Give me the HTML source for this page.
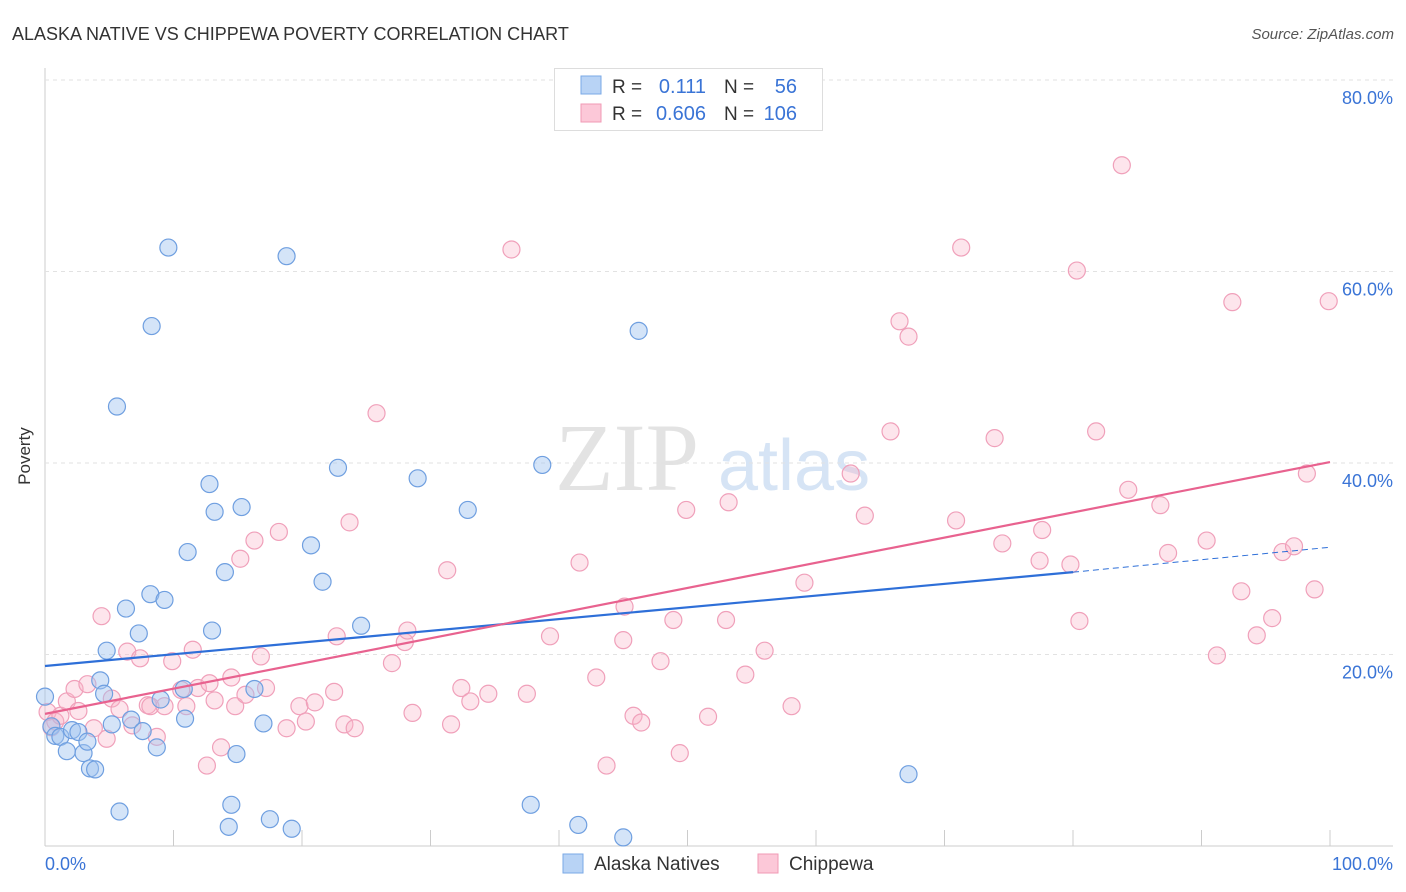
<!DOCTYPE html>
<html><head><meta charset="utf-8"><style>
body{margin:0;background:#fff;font-family:"Liberation Sans",sans-serif}
svg{display:block}
</style></head><body>
<svg id="c" width="1406" height="892" xmlns="http://www.w3.org/2000/svg">
<text x="12" y="40" font-size="18" fill="#333">ALASKA NATIVE VS CHIPPEWA POVERTY CORRELATION CHART</text>
<text x="1394" y="39" font-size="15" fill="#555" font-style="italic" text-anchor="end">Source: ZipAtlas.com</text>
<text x="30" y="456" font-size="17" fill="#333" transform="rotate(-90 30 456)" text-anchor="middle">Poverty</text>
<text x="555" y="490" font-size="96" fill="#e3e3e3" font-family="Liberation Serif,serif">ZIP</text>
<text x="718" y="490" font-size="72" fill="#d6e4f5">atlas</text>
<g id="grid"></g><g id="pts"></g><g id="lines"></g>
<g>
<rect x="554.5" y="68.5" width="268" height="62" fill="#fff" stroke="#ddd"/>
<rect x="581" y="76" width="20" height="18" fill="#b8d3f5" stroke="#7aa8e6"/>
<rect x="581" y="104" width="20" height="18" fill="#fcc8d8" stroke="#f09ab5"/>
<text x="612" y="93" font-size="19" fill="#333">R =</text><text x="706" y="93" font-size="20" fill="#3a74d6" text-anchor="end">0.111</text>
<text x="724" y="93" font-size="19" fill="#333">N =</text><text x="797" y="93" font-size="20" fill="#3a74d6" text-anchor="end">56</text>
<text x="612" y="120" font-size="19" fill="#333">R =</text><text x="706" y="120" font-size="20" fill="#3a74d6" text-anchor="end">0.606</text>
<text x="724" y="120" font-size="19" fill="#333">N =</text><text x="797" y="120" font-size="20" fill="#3a74d6" text-anchor="end">106</text>
</g>
<g>
<rect x="563" y="854" width="20" height="19" fill="#b8d3f5" stroke="#7aa8e6"/>
<text x="594" y="870" font-size="19" fill="#333">Alaska Natives</text>
<rect x="758" y="854" width="20" height="19" fill="#fcc8d8" stroke="#f09ab5"/>
<text x="789" y="870" font-size="19" fill="#333">Chippewa</text>
</g>
<text x="45" y="870" font-size="18" fill="#3a74d6">0.0%</text>
<text x="1393" y="870" font-size="18" fill="#3a74d6" text-anchor="end">100.0%</text>
</svg>
<script>
const yTicks=[20,40,60,80];
const blueX=[0,0.5,0.8,1.2,1.7,2.1,2.6,3,3.3,3.5,3.9,4.3,4.6,4.8,5.2,5.6,5.8,6.3,6.7,7.3,7.6,8.2,8.3,8.7,9,9.3,9.6,10.8,10.9,11.1,12.8,13,13.2,14,14.3,14.5,14.9,15.3,16.3,17,17.5,18.8,19.2,20.7,21.6,22.8,24.6,29,32.9,37.8,38.7,41.5,45,46.2,67.2];
const blueY=[15.6,12.5,11.5,11.4,9.9,12.1,11.9,9.7,10.9,8.1,8,17.3,15.9,20.4,12.7,45.9,3.6,24.8,13.2,22.2,12,26.3,54.3,10.3,15.3,25.7,62.5,16.4,13.3,30.7,37.8,22.5,34.9,28.6,2,4.3,9.6,35.4,16.4,12.8,2.8,61.6,1.8,31.4,27.6,39.5,23,38.4,35.1,4.3,39.8,2.2,0.9,53.8,7.5];
const pinkX=[0.2,0.5,0.8,1.2,1.7,2.3,2.6,3.3,3.8,4.4,4.8,5.2,5.8,6.4,6.8,7.4,8,8.2,8.7,9.3,9.9,10.6,11,11.5,11.9,12.8,13.2,13.7,12.6,14.5,14.8,15.2,15.6,16.3,16.8,17.2,18.2,18.8,19.8,20.3,21,22.5,22.7,23.3,23.7,24.1,25.8,27,28,28.2,28.6,31.3,31.6,32.4,33.1,34.5,36.3,37.5,39.3,41.6,42.9,43.7,45,45.1,45.8,46.4,47.9,48.9,49.4,49.9,51.6,53,53.2,54.5,56,58.1,59.1,62.7,63.8,65.8,66.5,67.2,70.9,71.3,73.9,74.5,77.4,77.6,79.8,80.3,80.5,81.8,84.3,83.8,86.8,87.4,90.4,91.2,92.4,93.1,94.3,95.5,96.3,97.2,98.2,98.8,99.9];
const pinkY=[14,12.4,13,13.6,15.1,16.4,14.1,16.9,12.3,24,11.2,15.4,14.3,20.3,12.6,19.6,14.7,14.6,11.4,14.6,19.3,16.3,14.6,20.5,16.5,17,15.2,10.3,8.4,17.6,14.6,30,15.8,31.9,19.8,16.5,32.8,12.3,14.6,13,15,16.1,21.9,12.7,33.8,12.3,45.2,19.1,21.3,22.5,13.9,28.8,12.7,16.5,15.1,15.9,62.3,15.9,21.9,29.6,17.6,8.4,21.5,25,13.6,12.9,19.3,23.6,9.7,35.1,13.5,23.6,35.9,17.9,20.4,14.6,27.5,38.9,34.5,43.3,54.8,53.2,34,62.5,42.6,31.6,29.8,33,29.4,60.1,23.5,43.3,37.2,71.1,35.6,30.6,31.9,19.9,56.8,26.6,22.0,23.8,30.7,31.3,38.9,26.8,56.9];
const blueFit=[18.8,28.6],bluePro=31.2,pinkFit=[13.8,40.1];
const svg=document.getElementById('c'),NS='http://www.w3.org/2000/svg';
const X=v=>45+v*12.85, Y=v=>846-v*9.575;
function mk(t,a,p){const e=document.createElementNS(NS,t);for(const k in a)e.setAttribute(k,a[k]);p.appendChild(e);return e;}
const grid=document.getElementById('grid');
mk('line',{x1:45,y1:68,x2:45,y2:846,stroke:'#ccc'},grid);
mk('line',{x1:45,y1:846,x2:1393,y2:846,stroke:'#ccc'},grid);
for(let i=0;i<=10;i++){const l=mk('line',{x1:X(i*10),x2:X(i*10),y1:830,y2:846,stroke:'#ccc'},grid);}
for(const t of yTicks){
 const g=mk('line',{x1:45,x2:1393,y1:Y(t),y2:Y(t),stroke:'#e2e2e2','stroke-dasharray':'4,4'},grid);
 
 const tx=mk('text',{x:1393,y:Y(t)+24,'font-size':18,fill:'#3a74d6','text-anchor':'end'},grid);tx.textContent=t.toFixed(1)+'%';
 
}
const pts=document.getElementById('pts');
pinkX.forEach((x,i)=>{const c=mk('circle',{cx:X(x),cy:Y(pinkY[i]),r:8.5,fill:'rgba(248,180,200,0.35)',stroke:'#f0a0ba','stroke-width':1.2},pts);
 });
blueX.forEach((x,i)=>{const c=mk('circle',{cx:X(x),cy:Y(blueY[i]),r:8.5,fill:'rgba(160,196,240,0.45)',stroke:'#6f9fe0','stroke-width':1.2},pts);
 });
const ln=document.getElementById('lines');
let a=mk('line',{x1:X(0),y1:Y(blueFit[0]),x2:X(80),y2:Y(blueFit[1]),stroke:'#2e6fd8','stroke-width':2.2},ln);

a=mk('line',{x1:X(80),y1:Y(blueFit[1]),x2:X(100),y2:Y(bluePro),stroke:'#2e6fd8','stroke-width':1,'stroke-dasharray':'6,4'},ln);

a=mk('line',{x1:X(0),y1:Y(pinkFit[0]),x2:X(100),y2:Y(pinkFit[1]),stroke:'#e8628f','stroke-width':2.2},ln);

</script>
</body></html>
